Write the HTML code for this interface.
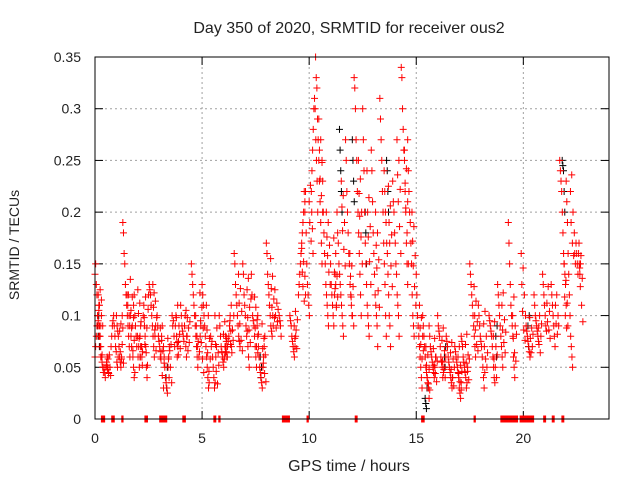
<!DOCTYPE html>
<html><head><meta charset="utf-8"><style>
body{margin:0;background:#fff;}
svg{display:block;font-family:"Liberation Sans",sans-serif;}
</style></head><body>
<svg id="chart" width="640" height="480" viewBox="0 0 640 480">
<rect x="0" y="0" width="640" height="480" fill="#fff"/>
<text x="349" y="33" font-size="16" text-anchor="middle" fill="#222">Day 350 of 2020, SRMTID for receiver ous2</text>
<text x="19" y="245" font-size="14" text-anchor="middle" fill="#222" transform="rotate(-90 19 245)">SRMTID / TECUs</text>
<text x="349" y="471" font-size="16" text-anchor="middle" fill="#222">GPS time / hours</text>
<g id="grid"></g>
<g id="ticks"></g>
<g id="black"></g>
<g id="red"></g>
<rect x="95" y="57" width="514" height="362" fill="none" stroke="#000" stroke-width="1"/>
</svg>
<script>
const xTicks=[0,5,10,15,20];
const yTicks=[0,0.05,0.1,0.15,0.2,0.25,0.3,0.35];
const yTickLabels=["0","0.05","0.1","0.15","0.2","0.25","0.3","0.35"];
const redStarts=[0.0,0.0,0.3,0.75,1.0,1.3,1.5,1.8,2.1,2.5,2.9,3.2,3.6,4.0,4.5,4.7,5.0,5.4,5.8,6.1,6.5,6.9,7.3,7.6,8.0,8.6,9.1,9.5,9.8,10.1,10.3,10.6,11.0,11.3,11.7,12.1,12.5,12.9,13.3,13.5,13.9,14.3,14.6,15.0,15.3,15.6,16.0,16.4,16.8,17.1,17.5,17.9,18.4,18.8,19.3,20.1,20.5,20.9,21.3,21.7,22.0,22.4,
0.15,0.55,1.15,1.65,2.0,2.3,2.7,3.05,3.4,3.8,4.25,4.9,5.2,5.6,6.0,6.3,6.7,7.1,7.45,7.8,8.2,8.4,9.3,9.65,10.0,10.45,10.8,11.15,11.5,11.9,12.3,12.7,13.1,13.7,14.1,14.45,14.8,15.15,15.45,15.8,16.2,16.6,16.95,17.3,17.7,18.15,18.6,19.0,19.5,19.9,20.3,20.7,21.1,21.5,21.9,22.2,22.6];
const redValues=[
[.14,.15,.13,.12,.10,.09,.08,.11,.07,.09,.1],
[.06,.07,.08,.09,.1,.12,.11,.09,.08,.06],
[.06,.055,.05,.045,.05,.045,.04,.05,.055,.06,.05,.045],
[.07,.08,.09,.095,.1,.09,.08,.07,.065,.055,.05,.06],
[.1,.09,.085,.08,.07,.06,.055,.05,.06,.1],
[.19,.18,.16,.15,.13,.12,.11,.1,.09,.08,.07,.06],
[.12,.11,.12,.1,.09,.1,.08,.07,.09,.06,.05,.04],
[.11,.12,.1,.09,.08,.07,.08,.06,.07,.05,.06,.07],
[.08,.09,.07,.06,.065,.1,.11,.09,.08,.07,.05,.04],
[.12,.13,.125,.12,.11,.1,.09,.08,.07,.06,.08,.09],
[.1,.09,.08,.075,.07,.06,.065,.08,.09],
[.07,.06,.05,.04,.035,.03,.025,.05,.06,.07],
[.1,.09,.095,.08,.07,.09,.1,.08,.06,.07,.075],
[.11,.1,.09,.085,.08,.075,.09,.1,.07,.06,.08],
[.15,.14,.13,.12,.11,.1,.09,.08,.07,.06,.05],
[.1,.09,.08,.07,.075,.06,.065,.08,.09],
[.13,.12,.11,.1,.09,.08,.07,.06,.05,.04,.03,.035],
[.08,.07,.075,.06,.05,.04,.03,.035,.06,.07],
[.1,.09,.08,.07,.065,.06,.055,.05,.06,.07,.08,.075],
[.07,.065,.06,.07,.075,.08,.09,.1,.085,.07],
[.16,.15,.13,.12,.11,.1,.09,.08,.075,.07],
[.15,.14,.12,.11,.1,.09,.08,.085,.07,.06,.05],
[.14,.12,.1,.095,.09,.08,.07,.06,.05,.09,.1],
[.08,.07,.06,.05,.045,.04,.035,.03,.05,.06,.07,.08],
[.17,.16,.14,.13,.12,.11,.1,.09,.085,.08,.1],
[.1,.095,.09,.08],
[.1,.095,.09,.08,.075,.07,.065,.06,.07,.08],
[.12,.13,.14,.15,.16,.17,.18,.19,.2,.22,.21],
[.2,.22,.18,.15,.13,.12,.11,.1],
[.22,.24,.26,.28,.3,.31,.3,.27,.25,.23,.2],
[.35,.33,.32,.29,.27,.25,.23,.21,.19,.17,.15],
[.25,.23,.2,.18,.16,.15,.13,.12,.11,.1,.09],
[.15,.13,.12,.11,.1,.09,.12,.14,.13,.11],
[.2,.18,.17,.15,.14,.13,.12,.11,.1,.09,.08],
[.27,.25,.22,.2,.18,.16,.15,.13,.12,.11,.1],
[.33,.32,.3,.27,.25,.22,.2,.18,.16,.14,.12,.1],
[.3,.27,.24,.2,.17,.15,.13,.11,.1,.09,.08],
[.26,.24,.21,.18,.16,.14,.12,.11,.1,.09,.07],
[.31,.29,.27,.25,.22,.2,.17,.15,.13,.1,.08],
[.24,.22,.2,.19,.17,.16,.14,.12,.1,.09,.07],
[.23,.21,.2,.18,.17,.15,.14,.12,.11,.1,.08],
[.34,.33,.3,.28,.26,.25,.22,.2,.17,.15,.13],
[.27,.24,.22,.2,.19,.17,.15,.12,.1,.09,.08],
[.14,.12,.1,.09,.08,.07,.06,.05,.04,.03],
[.1,.09,.08,.07,.06,.05,.045,.04,.035,.03,.02],
[.09,.08,.07,.065,.06,.055,.05,.045,.04,.05,.06],
[.1,.09,.085,.08,.07,.06,.055,.05,.04,.045,.05],
[.08,.075,.07,.06,.055,.05,.045,.04,.035,.03,.04],
[.07,.065,.06,.055,.05,.045,.04,.03,.025,.02,.035],
[.08,.075,.07,.06,.055,.05,.045,.04,.03,.035,.05],
[.15,.14,.13,.12,.11,.1,.09,.08,.07,.06],
[.11,.1,.09,.08,.075,.07,.06,.05,.04,.03,.045],
[.1,.095,.09,.085,.08,.07,.06,.05,.04,.035],
[.13,.12,.11,.1,.09,.08,.07,.06,.05],
[.19,.17,.15,.13,.11,.1,.09,.08,.06,.05,.04],
[.1,.09,.085,.08,.075,.07,.065,.06],
[.12,.11,.1,.095,.09,.085,.08,.075],
[.14,.13,.12,.11,.1,.09,.085],
[.13,.12,.11,.1,.09,.08,.07],
[.25,.24,.23,.22,.2,.18,.16,.15,.14,.13,.11],
[.23,.21,.19,.16,.14,.12,.1,.08,.07,.06,.05],
[.16,.15,.17,.16,.15,.14,.16,.15,.14,.15],
[.095,.105,.08,.125,.07,.115,.062,.09],
[.052,.048,.058,.044,.062,.05,.042],
[.085,.065,.092,.058,.072,.088,.054],
[.135,.105,.088,.118,.066,.098,.076,.045],
[.125,.102,.078,.112,.06,.094,.07,.052],
[.098,.072,.118,.064,.088,.052,.106],
[.13,.108,.122,.086,.114,.066,.098],
[.088,.058,.076,.042,.066,.03,.054],
[.078,.058,.04,.066,.05,.072,.035],
[.098,.074,.11,.062,.09,.082,.068],
[.105,.08,.098,.066,.088,.074,.094],
[.122,.095,.074,.108,.058,.088,.045],
[.11,.086,.064,.1,.046,.078,.058],
[.1,.072,.046,.088,.034,.064,.052],
[.082,.058,.094,.064,.07,.078,.06],
[.095,.072,.11,.064,.086,.076,.1],
[.14,.112,.092,.126,.076,.104,.066],
[.125,.098,.136,.086,.108,.074,.116],
[.118,.088,.108,.07,.096,.064,.082],
[.092,.068,.054,.078,.044,.062,.036],
[.155,.126,.108,.138,.09,.116,.098],
[.125,.1,.088,.112,.094,.106],
[.09,.078,.104,.086,.068,.096],
[.165,.142,.128,.152,.114,.138,.12],
[.21,.19,.226,.172,.2,.184,.16],
[.29,.26,.232,.27,.216,.248,.2],
[.2,.176,.158,.19,.142,.168,.13],
[.175,.142,.126,.16,.108,.138,.118],
[.23,.205,.182,.216,.164,.19,.148],
[.16,.138,.118,.148,.1,.128,.09],
[.25,.218,.196,.232,.176,.2,.15],
[.24,.2,.176,.214,.152,.186,.13],
[.2,.168,.146,.18,.124,.154,.108],
[.225,.19,.17,.206,.148,.178,.128],
[.27,.236,.21,.25,.186,.222,.16],
[.26,.228,.204,.242,.18,.21,.15],
[.2,.172,.148,.186,.128,.158,.11],
[.11,.088,.072,.098,.058,.08,.066],
[.07,.052,.04,.062,.034,.048,.028],
[.068,.052,.078,.044,.06,.036,.056],
[.076,.056,.088,.048,.066,.04,.06],
[.064,.048,.074,.04,.058,.032,.05],
[.06,.044,.07,.036,.052,.028,.046],
[.072,.054,.082,.046,.062,.038,.058],
[.128,.1,.086,.114,.072,.094,.066],
[.092,.07,.104,.058,.08,.05,.064],
[.08,.058,.094,.05,.07,.04,.062],
[.11,.086,.122,.074,.096,.064,.084],
[.1,.078,.118,.064,.09,.056,.082],
[.16,.13,.104,.146,.086,.12,.076],
[.098,.078,.064,.088,.07,.082],
[.088,.072,.1,.064,.08,.092],
[.112,.094,.128,.086,.104,.078],
[.11,.092,.12,.082,.1,.09],
[.15,.118,.1,.134,.088,.112,.09],
[.22,.19,.236,.17,.2,.158,.18],
[.17,.146,.128,.158,.11,.136,.094],
[.162,.15,.156,.142,.16,.148,.154]
];
const blackStarts=[0.1,11.4,12.0,13.6,21.8,15.4,3.3,7.7,12.6,16.3,18.7,20.2];
const blackValues=[
[.09,.08,.1,.07],
[.28,.26,.24,.22,.2],
[.27,.25,.23,.21],
[.25,.24,.22,.2],
[.25,.245,.24,.22,.2],
[.02,.015,.01,.03],
[.04,.03,.05],
[.06,.04,.05],
[.2,.18,.15],
[.06,.05,.07],
[.08,.06,.09],
[.09,.07,.1]
];
const zeroStarts=[0.3,0.78,1.25,2.33,3.02,4.1,5.55,5.78,8.75,9.9,12.15,15.25,17.7,18.95,19.85,20.95,21.35,21.8];
const zeroEnds=[0.45,0.92,1.33,2.47,3.35,4.22,5.65,5.86,9.08,9.98,12.25,15.38,17.76,19.75,20.5,21.05,21.45,21.9];
const STEP=0.03;
const X0=95,X1=609,Y0=419,Y1=57;
const sx=h=>X0+(h/24)*(X1-X0);
const sy=v=>Y0-(v/0.35)*(Y0-Y1);
const NS="http://www.w3.org/2000/svg";
function mk(tag,attrs,parent){const e=document.createElementNS(NS,tag);for(const k in attrs)e.setAttribute(k,attrs[k]);parent.appendChild(e);return e;}
const grid=document.getElementById('grid'),ticks=document.getElementById('ticks');
yTicks.forEach((v,i)=>{
  const y=sy(v);
  if(i>0&&i<yTicks.length-1){const g=mk('line',{x1:X0,x2:X1,y1:y,y2:y,stroke:'#a0a0a0','stroke-dasharray':'2,3'},grid);
  
  }
  mk('line',{x1:X0,x2:X0+8,y1:y,y2:y,stroke:'#000'},ticks);
  mk('line',{x1:X1-8,x2:X1,y1:y,y2:y,stroke:'#000'},ticks);
  const t=mk('text',{x:X0-14,y:y+5,'font-size':14,'text-anchor':'end',fill:'#222'},ticks);
  t.textContent=yTickLabels[i];
  
  
});
xTicks.forEach(h=>{
  const x=sx(h);
  if(h>0){const g=mk('line',{x1:x,x2:x,y1:Y1,y2:Y0,stroke:'#a0a0a0','stroke-dasharray':'2,3'},grid);
  
  }
  mk('line',{x1:x,x2:x,y1:Y0,y2:Y0-8,stroke:'#000'},ticks);
  mk('line',{x1:x,x2:x,y1:Y1,y2:Y1+8,stroke:'#000'},ticks);
  const t=mk('text',{x:x,y:443,'font-size':14,'text-anchor':'middle',fill:'#222'},ticks);
  t.textContent=String(h);
  
  
});
function cross(g,h,v,col){
  const x=sx(h),y=sy(v);
  const p=mk('path',{d:`M${x-3.5},${y}h7M${x},${y-3.5}v7`,stroke:col,'stroke-width':1,fill:'none'},g);
  
  
}
const bg=document.getElementById('black'),rg=document.getElementById('red');
blackStarts.forEach((t0,i)=>blackValues[i].forEach((v,j)=>cross(bg,t0+j*STEP+0.015,v,'#000')));
redStarts.forEach((t0,i)=>redValues[i].forEach((v,j)=>cross(rg,t0+j*STEP,v,'#f00')));
zeroStarts.forEach((a,i)=>{for(let h=a;h<=zeroEnds[i]+1e-9;h+=STEP)cross(rg,h,0,'#f00');});
</script>
</body></html>
